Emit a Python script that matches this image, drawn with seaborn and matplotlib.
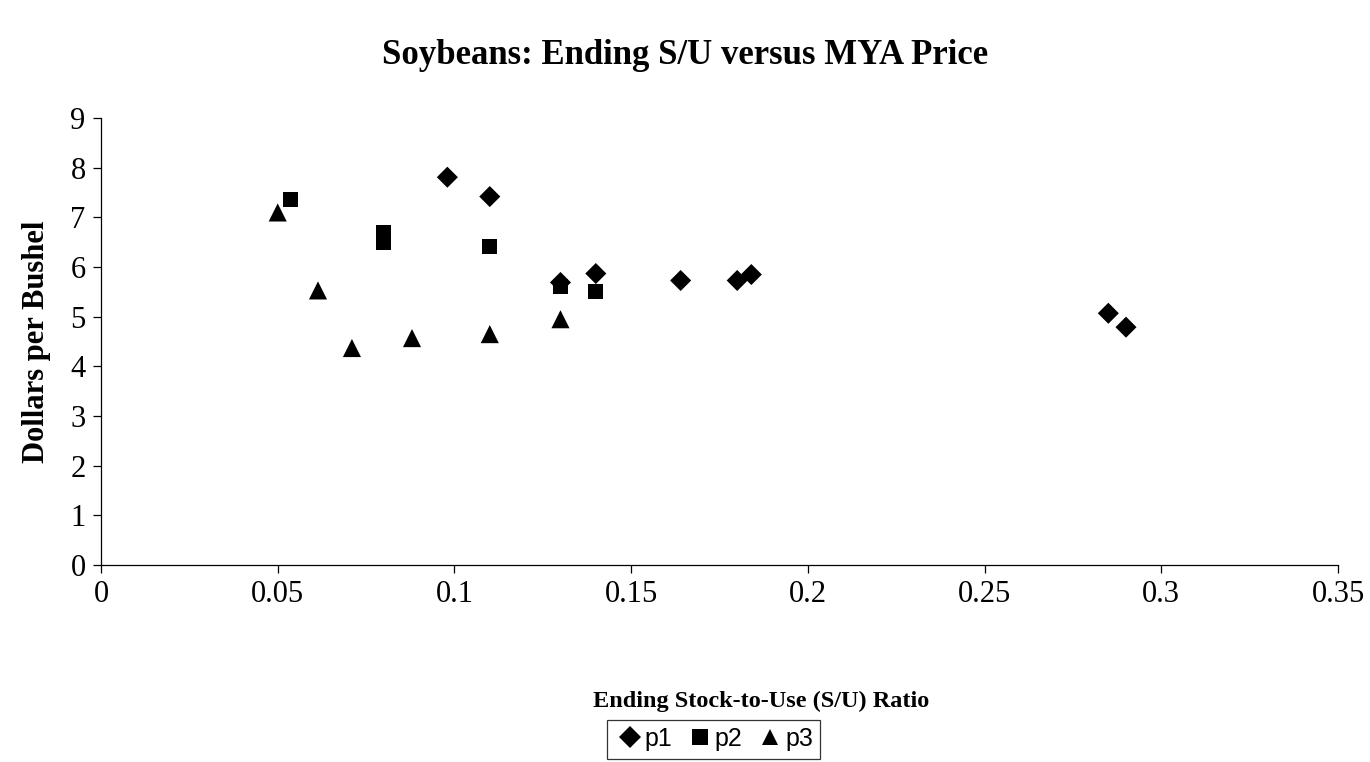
import pandas as pd
import numpy as np
import matplotlib
matplotlib.use('Agg')
import matplotlib.pyplot as plt
import seaborn as sns

# ---- data ----
p1_x = [0.098, 0.110, 0.130, 0.140, 0.164, 0.180, 0.184, 0.285, 0.290]
p1_y = [7.81, 7.42, 5.69, 5.87, 5.73, 5.73, 5.85, 5.07, 4.79]

p2_x = [0.0535, 0.080, 0.080, 0.110, 0.130, 0.140]
p2_y = [7.36, 6.70, 6.50, 6.42, 5.61, 5.51]

p3_x = [0.050, 0.0614, 0.071, 0.088, 0.110, 0.130]
p3_y = [7.10, 5.53, 4.37, 4.57, 4.65, 4.95]

series = ['p1', 'p2', 'p3']

df = pd.concat([
    pd.DataFrame({'su': p1_x, 'price': p1_y, 'series': 'p1'}),
    pd.DataFrame({'su': p2_x, 'price': p2_y, 'series': 'p2'}),
    pd.DataFrame({'su': p3_x, 'price': p3_y, 'series': 'p3'}),
])

sns.set_style('white')
plt.rcParams['text.color'] = 'black'
plt.rcParams['axes.labelcolor'] = 'black'
plt.rcParams['xtick.color'] = 'black'
plt.rcParams['ytick.color'] = 'black'
serif = ['Liberation Serif', 'DejaVu Serif']

fig = plt.figure(figsize=(13.7, 7.62), dpi=100)
ax = fig.add_axes([0.0737, 0.2585, 0.903, 0.5865])

sns.scatterplot(data=df, x='su', y='price', style='series', style_order=series,
                size='series', sizes={'p1': 115, 'p2': 115, 'p3': 170},
                markers={'p1': 'D', 'p2': 's', 'p3': '^'}, color='black',
                edgecolor='black', linewidth=0, ax=ax, legend=True)

ax.set_xlim(0, 0.35)
ax.set_ylim(0, 9)
ax.set_xticks(np.arange(0, 0.351, 0.05))
ax.set_xticklabels(['0', '0.05', '0.1', '0.15', '0.2', '0.25', '0.3', '0.35'])
ax.set_yticks(range(0, 10))

for s in ['top', 'right']:
    ax.spines[s].set_visible(False)
for s in ['left', 'bottom']:
    ax.spines[s].set_color('black')
    ax.spines[s].set_linewidth(0.9)

ax.tick_params(axis='both', direction='out', length=6, width=0.9, color='black',
               labelsize=22, pad=5, left=True, bottom=True)
for lab in ax.get_xticklabels() + ax.get_yticklabels():
    lab.set_family(serif)

ax.set_xlabel('Ending Stock-to-Use (S/U) Ratio', family=serif, fontsize=17.5,
              fontweight='bold')
ax.xaxis.set_label_coords(0.534, -0.281)
ax.set_ylabel('Dollars per Bushel', family=serif, fontsize=22,
              fontweight='bold', labelpad=14)

fig.suptitle('Soybeans: Ending S/U versus MYA Price', family=serif, fontsize=25,
             fontweight='bold', y=0.949)

handles, labels = ax.get_legend_handles_labels()
ax.legend_.remove()
for h in handles:
    if hasattr(h, 'set_markersize'):
        h.set_markersize(11)
leg = fig.legend(handles, labels, loc='center', bbox_to_anchor=(0.521, 0.03),
                 ncol=3, frameon=True, fancybox=False, handletextpad=0.0,
                 columnspacing=0.5, borderpad=0.3, handlelength=1.2,
                 prop={'family': 'Liberation Sans', 'size': 18})
leg.get_frame().set_edgecolor('black')
leg.get_frame().set_linewidth(0.9)

fig.savefig('out.png', dpi=100)
